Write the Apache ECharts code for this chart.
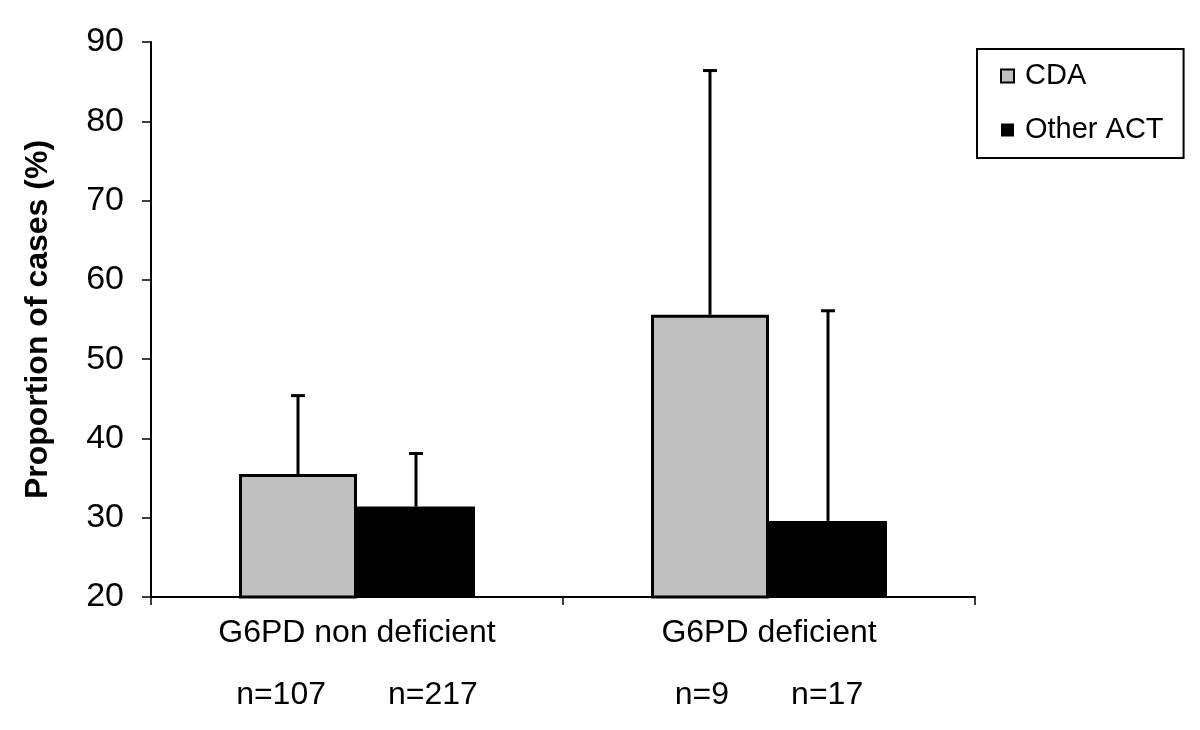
<!DOCTYPE html>
<html>
<head>
<meta charset="utf-8">
<script src="https://cdn.jsdelivr.net/npm/echarts@6/dist/echarts.min.js"></script>
<style>html,body{margin:0;padding:0;background:#fff}#c{width:1200px;height:730px}</style>
</head>
<body>
<div id="c"></div>
<script>
const categories = ['G6PD non deficient', 'G6PD deficient'];
const nLabels = [['n=107', 'n=217'], ['n=9', 'n=17']];
const seriesNames = ['CDA', 'Other ACT'];
const cdaValues = [35.5, 55.6];
const otherValues = [31.4, 29.6];
const cdaUpper = [45.4, 86.4];
const otherUpper = [38.1, 56.1];
const yTicks = [20, 30, 40, 50, 60, 70, 80, 90];

const FONT = 'Liberation Sans, Arial, sans-serif';
const BAR_W = 118;

function errorSeries(name, values, uppers, sign) {
  return {
    type: 'custom',
    name: name,
    z: 5,
    silent: true,
    data: values.map((v, i) => [i, v, uppers[i]]),
    renderItem: function (params, api) {
      const base = api.coord([api.value(0), api.value(1)]);
      const top = api.coord([api.value(0), api.value(2)]);
      const x = base[0] + sign * BAR_W / 2;
      const style = { stroke: '#000', lineWidth: 3 };
      return {
        type: 'group',
        children: [
          { type: 'line', shape: { x1: x, y1: base[1], x2: x, y2: top[1] }, style: style },
          { type: 'line', shape: { x1: x - 7, y1: top[1], x2: x + 7, y2: top[1] }, style: style }
        ]
      };
    }
  };
}

const chart = echarts.init(document.getElementById('c'));
chart.setOption({
  animation: false,
  backgroundColor: '#fff',
  grid: { left: 151, right: 225, top: 42, bottom: 133 },
  legend: {
    data: [
      { name: seriesNames[0], itemStyle: { color: '#c0c0c0', borderColor: '#000', borderWidth: 2 } },
      { name: seriesNames[1], itemStyle: { color: '#000' } }
    ],
    orient: 'vertical',
    left: 977,
    top: 49,
    icon: 'rect',
    itemWidth: 13,
    itemHeight: 13,
    itemGap: 22,
    padding: [11, 20, 12, 23],
    borderColor: '#000',
    borderWidth: 2,
    textStyle: { fontFamily: FONT, fontSize: 29, color: '#000', lineHeight: 32, padding: [0, 0, 0, 6] }
  },
  xAxis: {
    type: 'category',
    data: categories,
    axisLine: { lineStyle: { color: '#000', width: 2 } },
    axisTick: { show: true, length: 8, lineStyle: { color: '#000', width: 1.5 } },
    axisLabel: {
      margin: 5,
      interval: 0,
      formatter: function (val, idx) {
        const n = nLabels[idx];
        return '{a|' + val + '}\n{b|' + n[0] + '}{g|}{b|' + n[1] + '}';
      },
      rich: {
        a: { fontFamily: FONT, fontSize: 32, color: '#000', lineHeight: 62 },
        b: { fontFamily: FONT, fontSize: 32, color: '#000', lineHeight: 62 },
        g: { width: 62, lineHeight: 62 }
      }
    }
  },
  yAxis: {
    type: 'value',
    min: yTicks[0],
    max: yTicks[yTicks.length - 1],
    interval: 10,
    name: 'Proportion of cases (%)',
    nameLocation: 'middle',
    nameGap: 97,
    nameTextStyle: { fontFamily: FONT, fontSize: 32, fontWeight: 'bold', color: '#000' },
    axisLine: { show: true, lineStyle: { color: '#000', width: 2 } },
    axisTick: { show: true, length: 9, lineStyle: { color: '#000', width: 1.5 } },
    axisLabel: { margin: 27, fontFamily: FONT, fontSize: 34, color: '#000' },
    splitLine: { show: false }
  },
  series: [
    {
      name: seriesNames[0], type: 'bar', data: cdaValues, barWidth: BAR_W, barGap: '0%',
      itemStyle: { color: '#c0c0c0', borderColor: '#000', borderWidth: 3 }, z: 2
    },
    {
      name: seriesNames[1], type: 'bar', data: otherValues, barWidth: BAR_W, barGap: '0%',
      itemStyle: { color: '#000' }, z: 2
    },
    errorSeries('CDA err', cdaValues, cdaUpper, -1),
    errorSeries('Other err', otherValues, otherUpper, 1)
  ]
});
</script>
</body>
</html>
